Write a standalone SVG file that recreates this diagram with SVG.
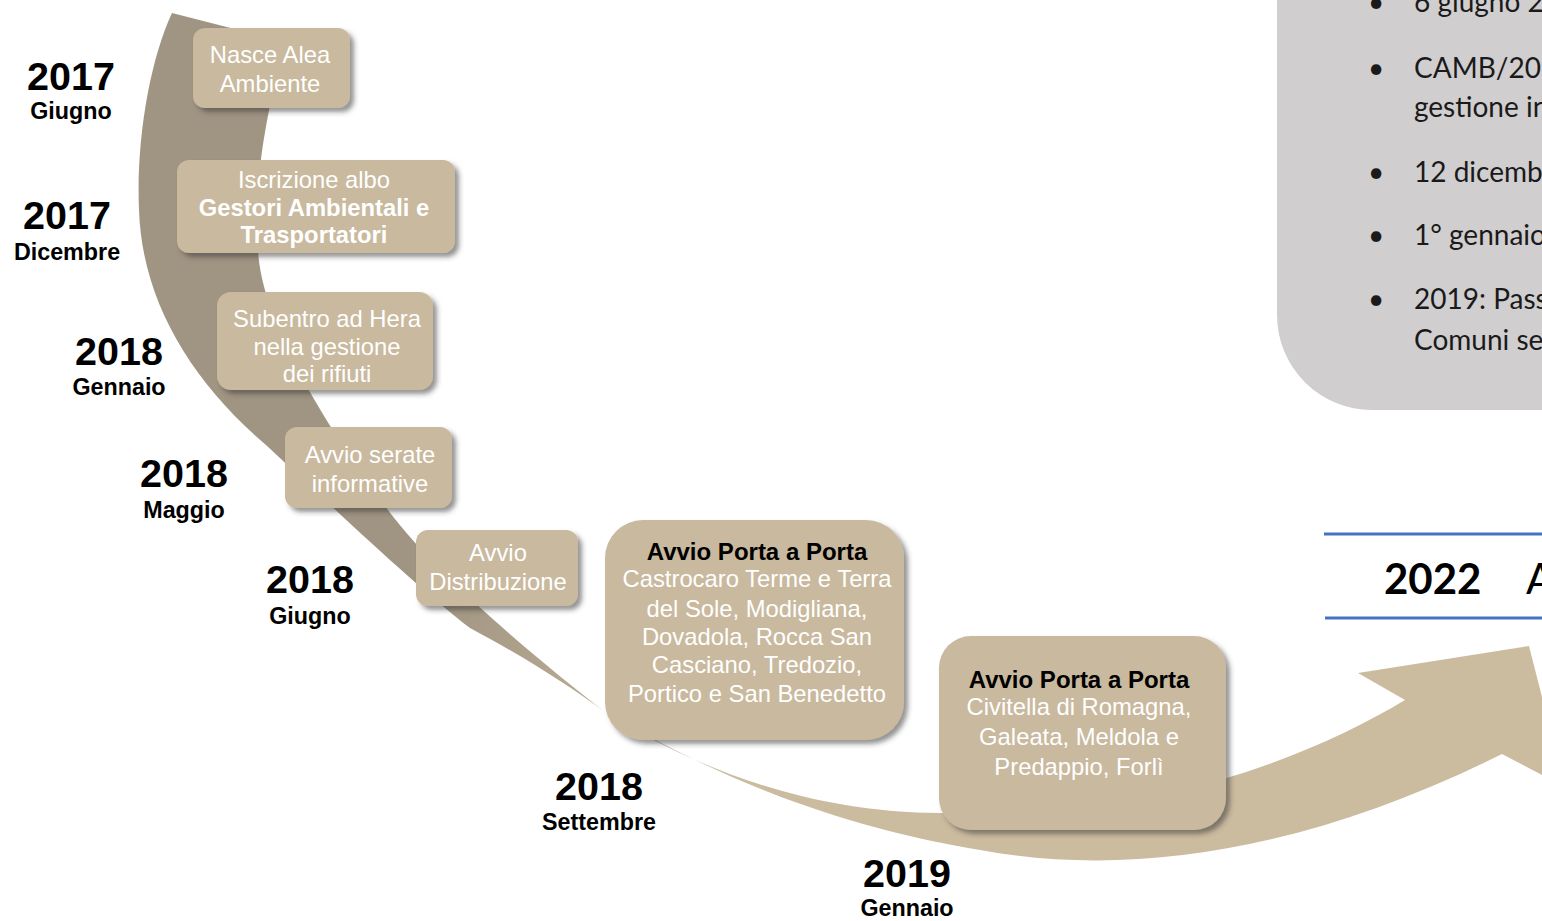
<svg xmlns="http://www.w3.org/2000/svg" width="1542" height="921" viewBox="0 0 1542 921">
<defs>
<linearGradient id="arrowGrad" gradientUnits="userSpaceOnUse" x1="440" y1="580" x2="700" y2="790">
<stop offset="0" stop-color="#a09482"/>
<stop offset="1" stop-color="#cbbb9f"/>
</linearGradient>
<filter id="sh" x="-10%" y="-10%" width="130%" height="130%">
<feDropShadow dx="4" dy="4" stdDeviation="2.5" flood-color="#3a3a3a" flood-opacity="0.55"/>
</filter>
<style>
.box{fill:#c9b99e;filter:url(#sh);}
.bt{font-family:"Liberation Sans",Arial,sans-serif;font-size:23.8px;fill:#ffffff;text-anchor:middle;}
.bb{font-weight:bold;}
.tt{font-family:"Liberation Sans",Arial,sans-serif;font-size:24px;font-weight:bold;fill:#000000;text-anchor:middle;}
.yr{font-family:"Liberation Sans",Arial,sans-serif;font-size:39.5px;font-weight:bold;fill:#000000;text-anchor:middle;}
.mo{font-family:"Liberation Sans",Arial,sans-serif;font-size:23.3px;font-weight:bold;fill:#000000;text-anchor:middle;}
.pt{font-family:Lato,"Open Sans",sans-serif;font-size:28px;fill:#1a1a1a;}
</style>
</defs>
<rect width="1542" height="921" fill="#ffffff"/>

<g id="panel">
<rect x="1277" y="-120" width="420" height="530" rx="95" ry="95" fill="#d0cecf"/>
<text class="pt" x="1368" y="12">•</text><text class="pt" x="1414" y="12">6 giugno 2</text>
<text class="pt" x="1368" y="78">•</text><text class="pt" x="1414" y="78">CAMB/201</text>
<text class="pt" x="1414" y="117">gestione in</text>
<text class="pt" x="1368" y="182">•</text><text class="pt" x="1414" y="182">12 dicemb</text>
<text class="pt" x="1368" y="245">•</text><text class="pt" x="1414" y="245">1° gennaio</text>
<text class="pt" x="1368" y="309">•</text><text class="pt" x="1414" y="309">2019: Pass</text>
<text class="pt" x="1414" y="350">Comuni se</text>
</g>

<g id="band-2022">
<line x1="1324" y1="534" x2="1542" y2="534" stroke="#4472c4" stroke-width="3"/>
<line x1="1325" y1="618" x2="1542" y2="618" stroke="#4472c4" stroke-width="3"/>
<text x="1384" y="594" font-family="Lato,'Open Sans',sans-serif" font-size="42" font-weight="bold" fill="#000">2022</text>
<text x="1526" y="594" font-family="Lato,'Open Sans',sans-serif" font-size="42" fill="#000">A</text>
</g>

<g id="connectors">
<path id="arrow" fill="url(#arrowGrad)" d="M172,13 C150,60 136,140 139,210 C142,300 190,380 266,445 C330,505 420,590 470,628 C530,660 575,690 605,712 C680,755 800,820 980,850 C1140,880 1320,845 1502,754 L1565,787 L1529,646 L1358,673 L1405,700 C1310,757 1150,822 940,813 C800,813 680,760 605,712 C545,665 440,580 388,510 C340,445 262,330 258,250 C254,190 262,130 285,42 Z"/>
</g>

<g id="node-1">
<rect class="box" x="193" y="28" width="157" height="80" rx="12"/>
<text class="bt" x="270" y="63">Nasce Alea</text>
<text class="bt" x="270" y="92">Ambiente</text>
</g>
<g id="node-2">
<rect class="box" x="177" y="160" width="278" height="93" rx="12"/>
<text class="bt" x="314" y="188">Iscrizione albo</text>
<text class="bt bb" x="314" y="216">Gestori Ambientali e</text>
<text class="bt bb" x="314" y="243">Trasportatori</text>
</g>
<g id="node-3">
<rect class="box" x="217" y="292" width="216" height="98" rx="14"/>
<text class="bt" x="327" y="327">Subentro ad Hera</text>
<text class="bt" x="327" y="355">nella gestione</text>
<text class="bt" x="327" y="382">dei rifiuti</text>
</g>
<g id="node-4">
<rect class="box" x="285" y="427" width="167" height="81" rx="12"/>
<text class="bt" x="370" y="463">Avvio serate</text>
<text class="bt" x="370" y="492">informative</text>
</g>
<g id="node-5">
<rect class="box" x="416" y="530" width="162" height="76" rx="12"/>
<text class="bt" x="498" y="561">Avvio</text>
<text class="bt" x="498" y="590">Distribuzione</text>
</g>
<g id="node-6">
<rect class="box" x="605" y="520" width="299" height="220" rx="38"/>
<text class="tt" x="757" y="560">Avvio Porta a Porta</text>
<text class="bt" x="757" y="587">Castrocaro Terme e Terra</text>
<text class="bt" x="757" y="617">del Sole, Modigliana,</text>
<text class="bt" x="757" y="645">Dovadola, Rocca San</text>
<text class="bt" x="757" y="673">Casciano, Tredozio,</text>
<text class="bt" x="757" y="702">Portico e San Benedetto</text>
</g>
<g id="node-7">
<rect class="box" x="939" y="636" width="287" height="194" rx="32"/>
<text class="tt" x="1079" y="688">Avvio Porta a Porta</text>
<text class="bt" x="1079" y="715">Civitella di Romagna,</text>
<text class="bt" x="1079" y="745">Galeata, Meldola e</text>
<text class="bt" x="1079" y="775">Predappio, Forlì</text>
</g>

<g id="label-2017-giugno"><text class="yr" x="71" y="90">2017</text><text class="mo" x="71" y="119">Giugno</text></g>
<g id="label-2017-dicembre"><text class="yr" x="67" y="229">2017</text><text class="mo" x="67" y="260">Dicembre</text></g>
<g id="label-2018-gennaio"><text class="yr" x="119" y="365">2018</text><text class="mo" x="119" y="395">Gennaio</text></g>
<g id="label-2018-maggio"><text class="yr" x="184" y="487">2018</text><text class="mo" x="184" y="518">Maggio</text></g>
<g id="label-2018-giugno"><text class="yr" x="310" y="593">2018</text><text class="mo" x="310" y="624">Giugno</text></g>
<g id="label-2018-settembre"><text class="yr" x="599" y="800">2018</text><text class="mo" x="599" y="830">Settembre</text></g>
<g id="label-2019-gennaio"><text class="yr" x="907" y="887">2019</text><text class="mo" x="907" y="916">Gennaio</text></g>
</svg>
